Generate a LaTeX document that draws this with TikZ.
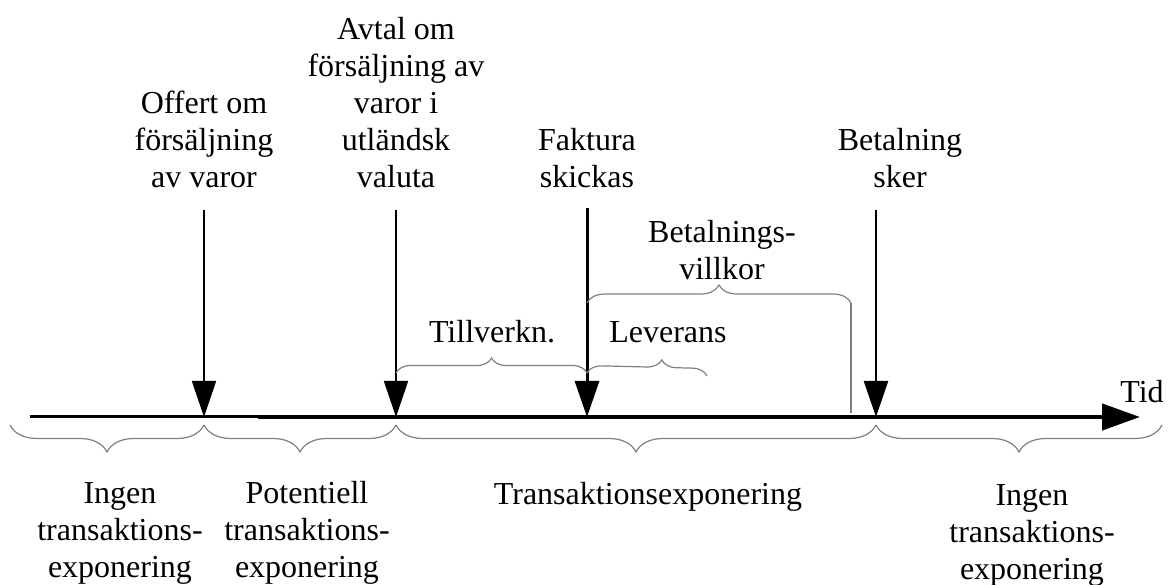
\documentclass[tikz,border=0pt]{standalone}
\usepackage{fontspec}
\setmainfont{Liberation Serif}
\usetikzlibrary{arrows.meta,decorations.pathreplacing}
\begin{document}
\begin{tikzpicture}[x=1pt,y=-1pt,
  lbl/.style={align=center,font=\fontsize{32}{37}\selectfont,inner sep=0pt},
  evarrow/.style={line width=1.8pt,-{Triangle[length=36pt,width=24pt]}},
  brc/.style={draw=black!50,line width=1.2pt,decorate,decoration={brace,amplitude=#1}},
  brcline/.style={draw=black!50,line width=1.2pt},
]
\useasboundingbox (0,0) rectangle (1171,585);

% timeline
\coordinate (L0) at (30,417);
\coordinate (L1) at (258,417);
\coordinate (L2) at (1140,417);
\draw[line width=3pt] (L0) -- (L1);
\draw[line width=4.5pt,-{Triangle[length=38pt,width=26pt]}] (L1) -- (L2);
\node[lbl,anchor=center] (tid) at (1142,392) {Tid};

% event points on the timeline
\coordinate (p1) at (204,417);
\coordinate (p2) at (396,417);
\coordinate (p3) at (587,417);
\coordinate (p4) at (876,417);
\coordinate (s1) at (204,210);
\coordinate (s2) at (396,210);
\coordinate (s3) at (587,208);
\coordinate (s4) at (876,210);

\draw[evarrow] (s1) -- (p1);
\draw[evarrow] (s2) -- (p2);
\draw[evarrow,line width=3pt] (s3) -- (p3);
\draw[evarrow,line width=2.2pt] (s4) -- (p4);

% event labels
\node[lbl] (offert) at (204,139) {Offert om\\försäljning\\av varor};
\node[lbl] (avtal) at (396,103) {Avtal om\\försäljning av\\varor i\\utländsk\\valuta};
\node[lbl] (faktura) at (587,158) {Faktura\\skickas};
\node[lbl] (betalning) at (900,158) {Betalning\\sker};

% upper braces
\coordinate (tv0) at (396,373);
\coordinate (tv1) at (587,373);
\draw[brc=15] (tv0) -- (tv1);
\node[lbl] (tillverkn) at (492,332) {Tillverkn.};

\coordinate (lv0) at (587,373);
\coordinate (lv1) at (707,376);
\draw[brc=15,decoration={aspect=0.62}] (lv0) -- (lv1);
\node[lbl] (leverans) at (668,332) {Leverans};

\coordinate (bv0) at (587,303);
\coordinate (bv1) at (851,303);
\coordinate (bv2) at (851,413);
\draw[brc=18] (bv0) -- (bv1);
\draw[brcline] (bv1) -- (bv2);
\node[lbl] (villkor) at (722,250) {Betalnings-\\villkor};

% lower braces
\coordinate (b0) at (10,425);
\coordinate (b5) at (1162,425);
\coordinate (b1) at (204,425);
\coordinate (b2) at (396,425);
\coordinate (b4) at (876,425);
\draw[brc=27,decoration={mirror}] (b0) -- (b1);
\draw[brc=27,decoration={mirror}] (b1) -- (b2);
\draw[brc=27,decoration={mirror}] (b2) -- (b4);
\draw[brc=27,decoration={mirror}] (b4) -- (b5);

\node[lbl] (ingen1) at (120,533) {Ingen\\transaktions-\\exponering};
\node[lbl] (potentiell) at (307,533) {Potentiell\\transaktions-\\exponering};
\node[lbl] (transexp) at (648,497) {Transaktionsexponering};
\node[lbl] (ingen2) at (1032,535) {Ingen\\transaktions-\\exponering};
\end{tikzpicture}
\end{document}
